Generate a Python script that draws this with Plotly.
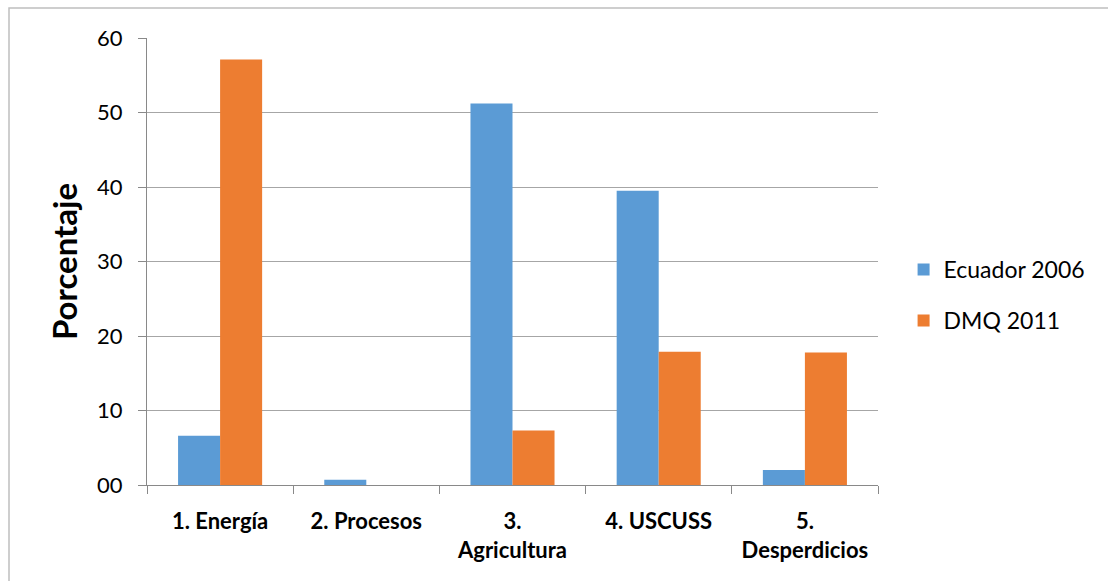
import plotly.graph_objects as go

categories = ["1. Energía", "2. Procesos", "3.<br>Agricultura", "4. USCUSS", "5.<br>Desperdicios"]
ecuador_2006 = [6.6, 0.7, 51.2, 39.5, 2.0]
dmq_2011 = [57.1, 0.0, 7.3, 17.9, 17.8]
y_tickvals = [0, 10, 20, 30, 40, 50, 60]
y_ticktext = ["00", "10", "20", "30", "40", "50", "60"]

W, H = 1108, 581
L, R, T, B = 147, 230, 38, 96
pw, ph = W - L - R, H - T - B

font_family = "Lato, 'Open Sans', sans-serif"

fig = go.Figure()
fig.add_trace(go.Bar(name="Ecuador 2006", x=categories, y=ecuador_2006,
                     marker=dict(color="#5B9BD5", line=dict(width=0)), legendgroup="a"))
fig.add_trace(go.Bar(name="DMQ 2011", x=categories, y=dmq_2011,
                     marker=dict(color="#ED7D31", line=dict(width=0)), legendgroup="b"))

fig.update_layout(
    width=W, height=H,
    margin=dict(l=L, r=R, t=T, b=B),
    paper_bgcolor="white", plot_bgcolor="white",
    barmode="group", bargap=0.425, bargroupgap=0,
    font=dict(family=font_family, color="black"),
    legend=dict(x=1.035, y=0.425, xanchor="left", yanchor="middle",
                font=dict(size=23), tracegroupgap=18, traceorder="grouped",
                itemwidth=30),
    showlegend=True,
)
fig.update_xaxes(
    showline=True, linecolor="#898989", linewidth=1,
    ticks="outside", ticklen=8, tickcolor="#898989", tickson="boundaries",
    tickfont=dict(size=22, family=font_family, weight="bold"),
    ticklabelstandoff=17,
    showgrid=False,
)
fig.update_yaxes(
    range=[0, 60], tickvals=y_tickvals, ticktext=y_ticktext,
    showline=True, linecolor="#898989", linewidth=1,
    ticks="outside", ticklen=8, tickcolor="#898989",
    tickfont=dict(size=22, family=font_family),
    ticklabelstandoff=11,
    showgrid=True, gridcolor="#A6A6A6", gridwidth=1,
    zeroline=False,
    title=dict(text="Porcentaje", font=dict(size=33, family=font_family, weight="bold"), standoff=9),
)

# chart outer border
fig.add_shape(type="rect", xref="paper", yref="paper",
              x0=(9 - L) / pw, x1=1 + (R + 20) / pw,
              y0=-(B + 20) / ph, y1=1 + (T - 8) / ph,
              line=dict(color="#BFBFBF", width=1.5), fillcolor="rgba(0,0,0,0)", layer="below")

fig.write_html("out.html")
